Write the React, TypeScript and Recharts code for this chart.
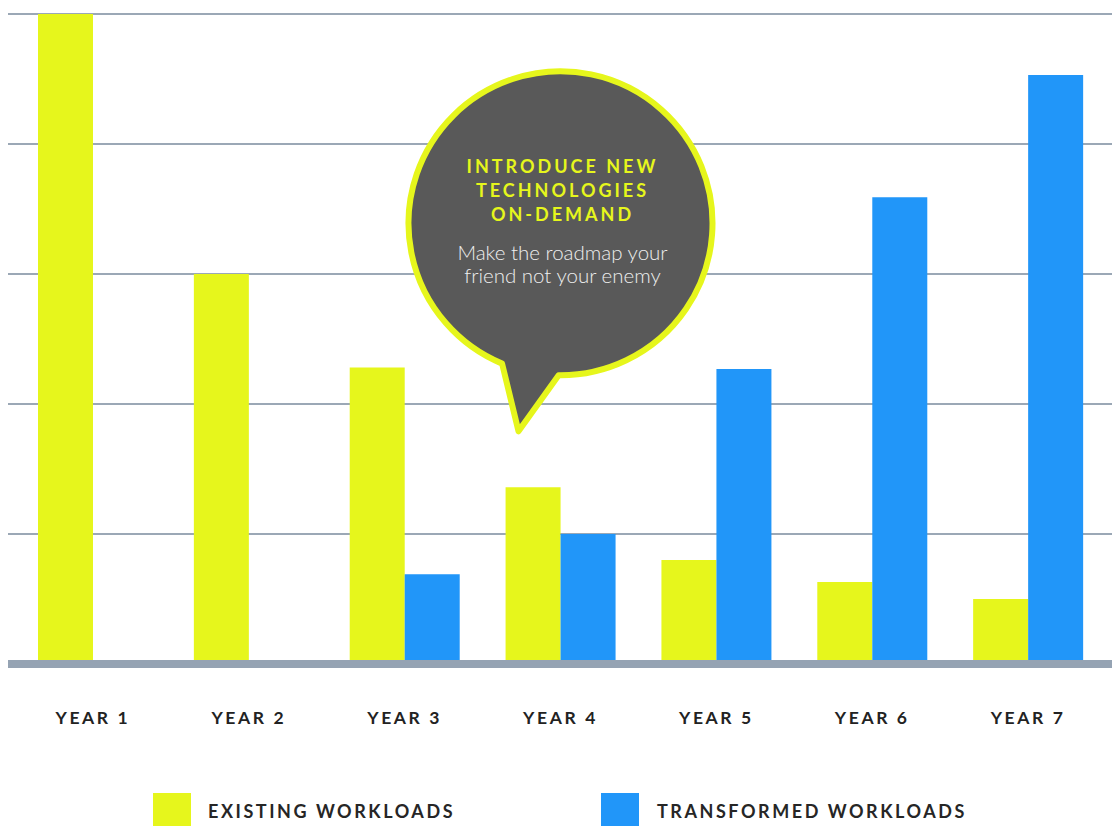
import React from "react";
import {
  BarChart,
  Bar,
  XAxis,
  YAxis,
  CartesianGrid,
  ReferenceLine,
  ReferenceDot,
  Legend,
} from "recharts";

const years = ["YEAR 1", "YEAR 2", "YEAR 3", "YEAR 4", "YEAR 5", "YEAR 6", "YEAR 7"];
const existing = [5.0, 3.0, 2.28, 1.36, 0.8, 0.63, 0.5];
const transformed = [0, 0, 0.69, 1.0, 2.27, 3.59, 4.53];
const yTicks = [0, 1, 2, 3, 4, 5];

const calloutTitle = ["INTRODUCE NEW", "TECHNOLOGIES", "ON-DEMAND"];
const calloutBody = ["Make the roadmap your", "friend not your enemy"];

const YELLOW = "#e6f61c";
const BLUE = "#2196f9";
const GRID = "#9ba8b6";
const BASE = "#95a3b3";
const BUBBLE = "#595959";

const data = years.map((year, i) => ({
  year,
  existing: existing[i],
  transformed: transformed[i],
}));

function YearTick({ x, y, payload }: any) {
  return (
    <text
      x={x}
      y={y + 60}
      textAnchor="middle"
      fill="#222"
      fontSize={17.5}
      fontWeight={700}
      letterSpacing={2.6}
    >
      {payload.value}
    </text>
  );
}

function Bubble({ cx, cy }: any) {
  if (cx == null || cy == null) return null;
  const r = 152;
  const a = (112.6 * Math.PI) / 180;
  const b = (90.7 * Math.PI) / 180;
  const ax = cx + r * Math.cos(a);
  const ay = cy + r * Math.sin(a);
  const bx = cx + r * Math.cos(b);
  const by = cy + r * Math.sin(b);
  const path = `M ${ax} ${ay} A ${r} ${r} 0 1 1 ${bx} ${by} L ${cx - 42} ${cy + 208} Z`;
  return (
    <g>
      <path d={path} fill={BUBBLE} stroke={YELLOW} strokeWidth={6} strokeLinejoin="round" />
      {calloutTitle.map((t, i) => (
        <text
          key={t}
          x={cx + 2}
          y={cy - 50 + i * 24}
          textAnchor="middle"
          fill={YELLOW}
          fontSize={18}
          fontWeight={700}
          letterSpacing={3}
        >
          {t}
        </text>
      ))}
      {calloutBody.map((t, i) => (
        <text
          key={t}
          x={cx + 2}
          y={cy + 37 + i * 23}
          textAnchor="middle"
          fill="#eeeeee"
          fontSize={20.5}
          fontWeight={300}
        >
          {t}
        </text>
      ))}
    </g>
  );
}

function LegendContent() {
  const items = [
    { label: "EXISTING WORKLOADS", color: YELLOW, sq: 153, tx: 208 },
    { label: "TRANSFORMED WORKLOADS", color: BLUE, sq: 601, tx: 657 },
  ];
  return (
    <div style={{ position: "relative", width: 1112, height: 56 }}>
      {items.map((it) => (
        <React.Fragment key={it.label}>
          <div
            style={{
              position: "absolute",
              left: it.sq,
              top: 23,
              width: 38,
              height: 38,
              background: it.color,
            }}
          />
          <div
            style={{
              position: "absolute",
              left: it.tx,
              top: 31,
              fontSize: 18,
              fontWeight: 700,
              letterSpacing: 2.55,
              color: "#262626",
              lineHeight: "20px",
              whiteSpace: "nowrap",
            }}
          >
            {it.label}
          </div>
        </React.Fragment>
      ))}
    </div>
  );
}

export default function App() {
  return (
    <div
      style={{
        position: "absolute",
        left: 0,
        top: 0,
        width: 1112,
        height: 826,
        overflow: "hidden",
        fontFamily: "Lato, sans-serif",
        background: "#fff",
      }}
    >
      <BarChart
        width={1112}
        height={826}
        data={data}
        margin={{ top: 14, right: 0, left: 8, bottom: 0 }}
        barSize={55}
        barGap={0}
      >
        <CartesianGrid vertical={false} stroke={GRID} strokeWidth={2} />
        <XAxis
          dataKey="year"
          axisLine={false}
          tickLine={false}
          tickSize={0}
          tickMargin={0}
          height={106}
          padding={{ left: 7, right: 6 }}
          tick={<YearTick />}
          interval={0}
        />
        <YAxis hide domain={[0, 5]} ticks={yTicks} />
        <Bar dataKey="existing" fill={YELLOW} isAnimationActive={false} />
        <Bar dataKey="transformed" fill={BLUE} isAnimationActive={false} />
        <ReferenceLine y={0} stroke={BASE} strokeWidth={8} />
        <ReferenceDot x="YEAR 4" y={3.39} r={0} shape={<Bubble />} ifOverflow="visible" />
        <Legend
          verticalAlign="bottom"
          height={56}
          content={<LegendContent />}
          wrapperStyle={{ left: 0, width: 1112 }}
        />
      </BarChart>
    </div>
  );
}
